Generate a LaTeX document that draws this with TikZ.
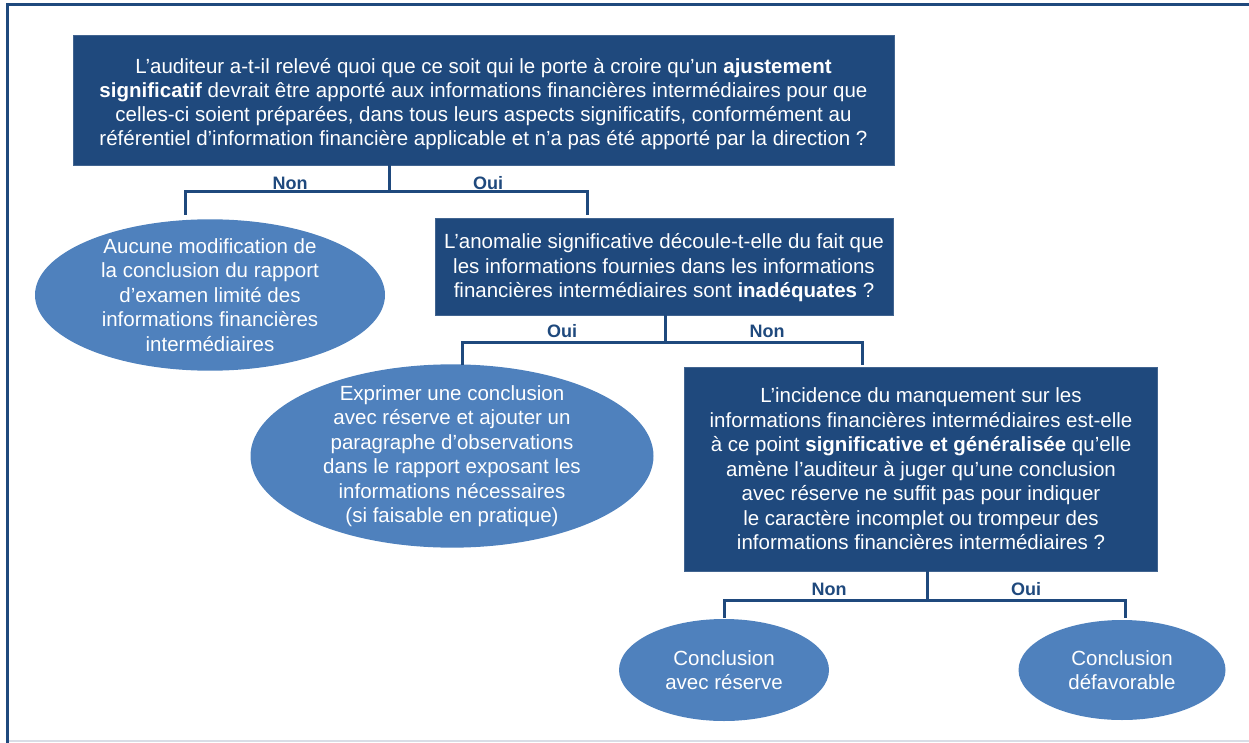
\documentclass[tikz,border=0pt]{standalone}
\usepackage{fontspec}
\usepackage{xcolor}
\usepackage{tikz}
\usetikzlibrary{shapes,arrows}

\newfontfamily\sans{Liberation Sans}

\definecolor{qblue}{HTML}{1F497D}
\definecolor{ablue}{HTML}{4F81BD}
\definecolor{framegray}{HTML}{D9DDE6}

\begin{document}
\begin{tikzpicture}[x=1pt,y=-1pt]
				\tikzstyle{common} = [text=white, align=center, inner sep=0, font=\sans\fontsize{20.5}{24.5}\selectfont]
				\tikzstyle{question} = [rectangle, common, fill=qblue, draw=qblue!85!white, line width=0.8pt]
				\tikzstyle{answer} = [ellipse, common, fill=ablue]
				\tikzstyle{line} = [draw=qblue, line width=3pt, line join=miter]
				\tikzstyle{lbl} = [text=qblue, font=\sans\bfseries\fontsize{18}{20}\selectfont]
				\useasboundingbox (0,0) rectangle (1249,743);
				% frame
				\draw[framegray, line width=2pt] (7,741) -- (1249,741);
				\draw[qblue, line width=3pt] (7,743) -- (7,5) -- (1249,5);

				\node[question, minimum width=821, minimum height=130, font=\sans\fontsize{20.5}{24}\selectfont] (q1) at (483.5,100) {\rule{0pt}{23pt}L’auditeur a-t-il relevé quoi que ce soit qui le porte à croire qu’un \textbf{ajustement}\\ \textbf{significatif} devrait être apporté aux informations financières intermédiaires pour que\\ celles-ci soient préparées, dans tous leurs aspects significatifs, conformément au\\ référentiel d’information financière applicable et n’a pas été apporté par la direction ?};
				\node[answer, minimum width=350, inner sep=-3pt] (a1) at (210,295) {Aucune modification de\\ la conclusion du rapport\\ d’examen limité des\\ informations financières\\ intermédiaires};
				\node[question, minimum width=458, minimum height=97] (q2) at (664,266.5) {\rule{0pt}{18pt}L’anomalie significative découle-t-elle du fait que\\ les informations fournies dans les informations\\ financières intermédiaires sont \textbf{inadéquates} ?};
				\node[answer, minimum width=403, inner sep=-6pt] (a2) at (452,456) {Exprimer une conclusion\\ avec réserve et ajouter un\\ paragraphe d’observations\\ dans le rapport exposant les\\ informations nécessaires\\ (si faisable en pratique)};
				\node[question, minimum width=473, minimum height=204] (q3) at (921,469) {L’incidence du manquement sur les\\ informations financières intermédiaires est-elle\\ à ce point \textbf{significative et généralisée} qu’elle\\ amène l’auditeur à juger qu’une conclusion\\ avec réserve ne suffit pas pour indiquer\\ le caractère incomplet ou trompeur des\\ informations financières intermédiaires ?};
				\node[answer, minimum width=210, minimum height=102] (a3) at (724,670) {Conclusion\\ avec réserve};
				\node[answer, minimum width=207, minimum height=100] (a4) at (1122,670) {Conclusion\\ défavorable};

				\coordinate (j1) at (389,192);
				\coordinate (d1l) at (185,215);
				\coordinate (d1r) at (587,215);
				\coordinate (j2) at (665,342);
				\coordinate (d2l) at (462,365);
				\coordinate (d2r) at (862,365);
				\coordinate (j3) at (927,600);
				\coordinate (d3l) at (724,618);
				\coordinate (d3r) at (1125,618);

				\draw[line] (q1.south -| j1) -- (j1) (d1l) |- (j1) -| (d1r);
				\draw[line] (q2.south -| j2) -- (j2) (d2l) |- (j2) -| (d2r);
				\draw[line] (q3.south -| j3) -- (j3) (d3l) |- (j3) -| (d3r);

				\node[lbl] (n1) at (290,183) {Non};
				\node[lbl] (o1) at (488,183) {Oui};
				\node[lbl] (o2) at (562,331) {Oui};
				\node[lbl] (n2) at (767,331) {Non};
				\node[lbl] (n3) at (829,589) {Non};
				\node[lbl] (o3) at (1026,589) {Oui};
			\end{tikzpicture}
\end{document}
